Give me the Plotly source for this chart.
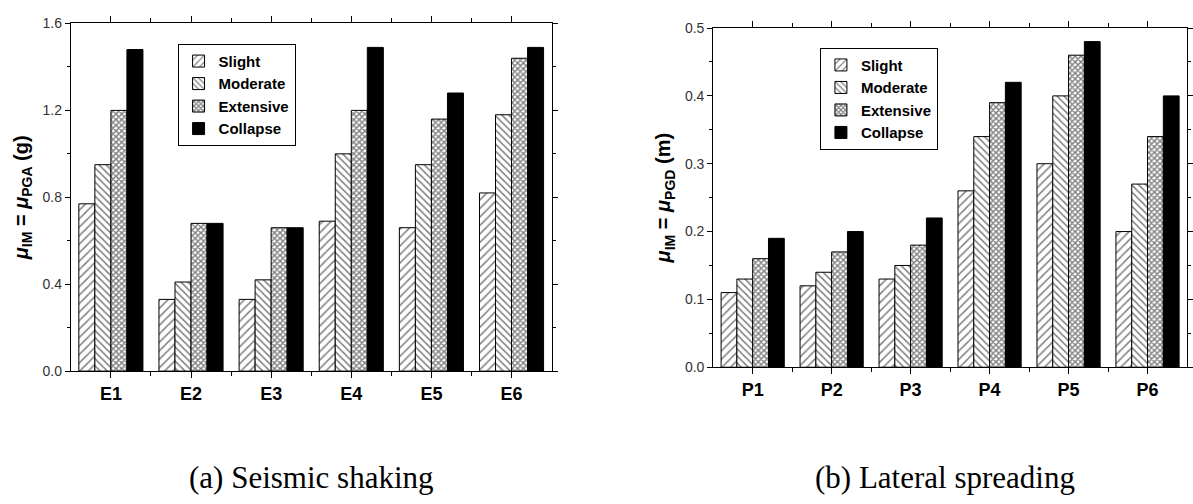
import plotly.graph_objects as go

# Damage states and event/site labels
states = ["Slight", "Moderate", "Extensive", "Collapse"]
events = ["E1", "E2", "E3", "E4", "E5", "E6"]
sites = ["P1", "P2", "P3", "P4", "P5", "P6"]

# Median PGA (g) per damage state, scenarios E1..E6
pga_slight = [0.77, 0.33, 0.33, 0.69, 0.66, 0.82]
pga_moderate = [0.95, 0.41, 0.42, 1.00, 0.95, 1.18]
pga_extensive = [1.20, 0.68, 0.66, 1.20, 1.16, 1.44]
pga_collapse = [1.48, 0.68, 0.66, 1.49, 1.28, 1.49]

# Median PGD (m) per damage state, sites P1..P6
pgd_slight = [0.11, 0.12, 0.13, 0.26, 0.30, 0.20]
pgd_moderate = [0.13, 0.14, 0.15, 0.34, 0.40, 0.27]
pgd_extensive = [0.16, 0.17, 0.18, 0.39, 0.46, 0.34]
pgd_collapse = [0.19, 0.20, 0.22, 0.42, 0.48, 0.40]

W, H = 1193, 504

patterns = {
    "Slight": dict(shape="/", fgcolor="black", bgcolor="white", size=6, solidity=0.25),
    "Moderate": dict(shape="\\", fgcolor="black", bgcolor="white", size=5, solidity=0.3),
    "Extensive": dict(shape="x", fgcolor="black", bgcolor="white", size=4, solidity=0.6),
}


def px(x):
    return x / W


def py(y):
    return 1 - y / H


fig = go.Figure()

pos = [1, 2, 3, 4, 5, 6]
left_series = [pga_slight, pga_moderate, pga_extensive, pga_collapse]
right_series = [pgd_slight, pgd_moderate, pgd_extensive, pgd_collapse]


def bar_marker(name):
    if name == "Collapse":
        return dict(color="black", line=dict(color="black", width=1))
    return dict(color="white", line=dict(color="black", width=1), pattern=patterns[name])


for name, vals in zip(states, left_series):
    fig.add_trace(go.Bar(x=pos, y=vals, name=name, xaxis="x", yaxis="y",
                         legend="legend", marker=bar_marker(name)))

for name, vals in zip(states, right_series):
    fig.add_trace(go.Bar(x=pos, y=vals, name=name, xaxis="x2", yaxis="y2",
                         legend="legend2", marker=bar_marker(name)))

tick_font = dict(family="Liberation Sans, Arial", size=14, color="#333")
cat_font = dict(family="Liberation Sans, Arial", size=18, color="black", weight="bold")
title_font = dict(family="Liberation Sans, Arial", size=20, color="black", weight="bold")


def xaxis(domain, labels, anchor):
    return dict(
        domain=domain, anchor=anchor, range=[0.5, 6.5],
        tickmode="array", tickvals=pos, ticktext=labels,
        ticks="outside", ticklen=6, tickwidth=1, tickcolor="black",
        minor=dict(ticks="outside", ticklen=4, tickwidth=1, tickcolor="black",
                   tickmode="array", tickvals=[1.5, 2.5, 3.5, 4.5, 5.5]),
        showline=True, linecolor="black", linewidth=1, mirror="ticks",
        showgrid=False, zeroline=False, tickfont=cat_font,
    )


def yaxis(domain, rng, dtick, minor, title, anchor):
    return dict(
        domain=domain, anchor=anchor, range=rng,
        tickmode="linear", tick0=0, dtick=dtick, tickformat=".1f",
        ticks="outside", ticklen=5, tickwidth=1, tickcolor="black",
        minor=dict(ticks="outside", ticklen=3, tickwidth=1, tickcolor="black",
                   dtick=minor, tick0=0),
        showline=True, linecolor="black", linewidth=1, mirror="ticks",
        showgrid=False, zeroline=False, tickfont=tick_font,
        title=dict(text=title, font=title_font, standoff=8),
    )


def mu_title(sub, unit):
    s = '<span style="font-size:14px">%s</span>'
    return ("<i>μ</i><sub>" + s % "IM" + "</sub> = <i>μ</i><sub>" + s % sub
            + "</sub> " + unit)


legend_common = dict(
    bgcolor="white", bordercolor="black", borderwidth=1,
    font=dict(family="Liberation Sans, Arial", size=15, color="black", weight="bold"),
    xanchor="left", yanchor="top", tracegroupgap=0, itemclick=False,
)

caption_font = dict(family="Liberation Serif, Times New Roman", size=31, color="black")

fig.update_layout(
    width=W, height=H,
    margin=dict(l=0, r=0, t=0, b=0),
    paper_bgcolor="white", plot_bgcolor="white",
    barmode="group", bargap=0.2, bargroupgap=0.0,
    xaxis=xaxis([px(71), px(553)], events, "y"),
    yaxis=yaxis([py(375), py(16)], [0, 1.6], 0.4, 0.2, mu_title("PGA", "(g)"), "x"),
    xaxis2=xaxis([px(715), px(1190)], sites, "y2"),
    yaxis2=yaxis([py(371), py(20.7)], [0, 0.5], 0.1, 0.05, mu_title("PGD", "(m)"), "x2"),
    legend=dict(x=px(178), y=py(37), **legend_common),
    legend2=dict(x=px(822), y=py(41), **legend_common),
    annotations=[
        dict(text="(a) Seismic shaking", x=px(312), y=py(485), xref="paper", yref="paper",
             showarrow=False, xanchor="center", yanchor="middle", font=caption_font),
        dict(text="(b) Lateral spreading", x=px(947), y=py(485), xref="paper", yref="paper",
             showarrow=False, xanchor="center", yanchor="middle", font=caption_font),
    ],
)

fig.write_html("out.html")
